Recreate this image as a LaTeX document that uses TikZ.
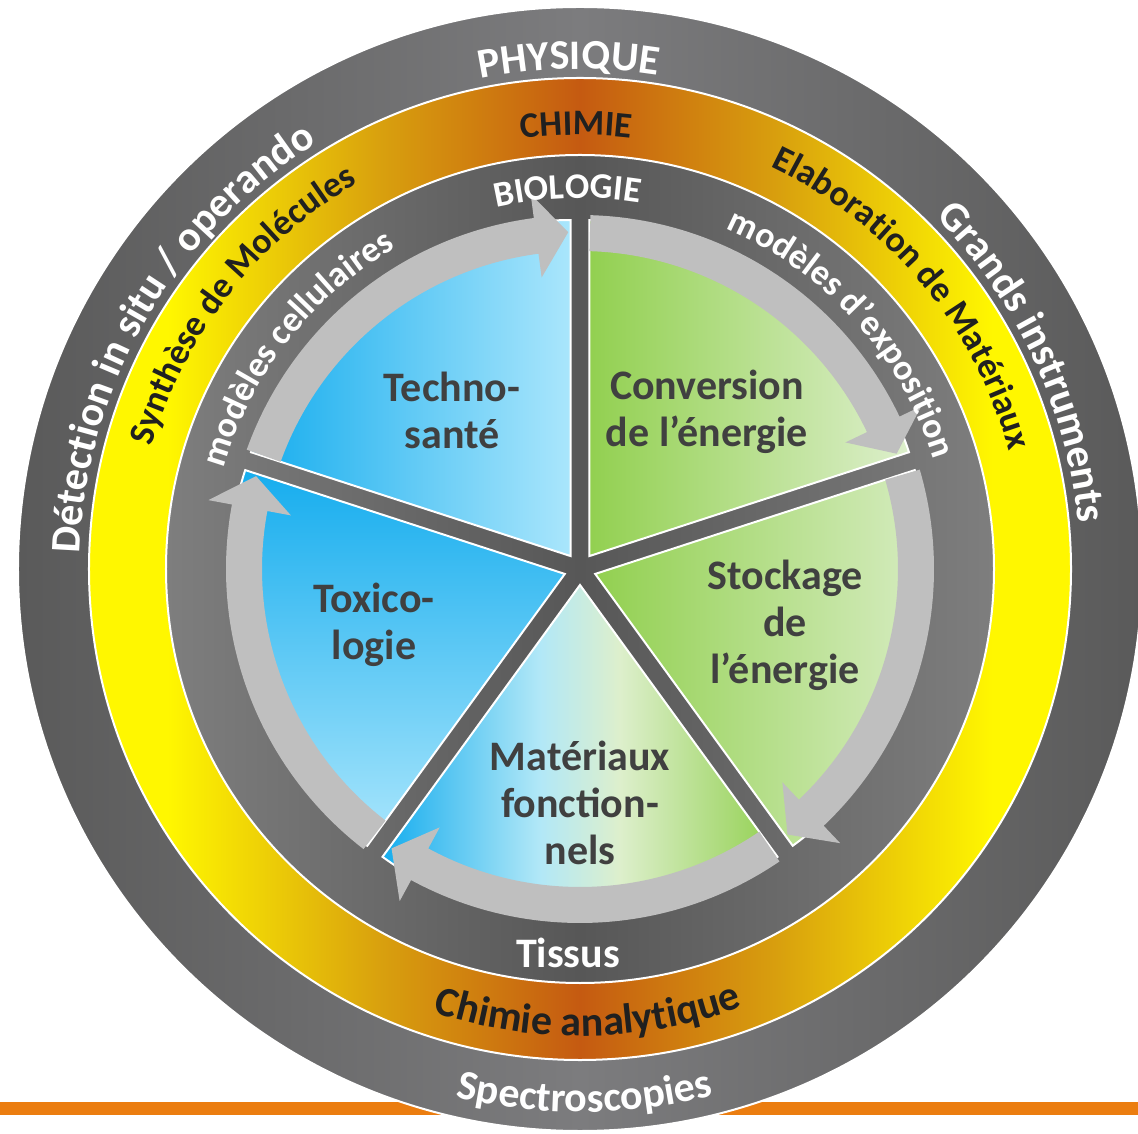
\documentclass[tikz,border=0pt]{standalone}
\usepackage{fontspec}
\setmainfont{Carlito}
\usepackage{tikz}
\usetikzlibrary{decorations.text}

\definecolor{ringgray}{RGB}{124,124,126}
\definecolor{ringdark}{RGB}{90,90,90}
\definecolor{chyellow}{RGB}{255,247,0}
\definecolor{chgold}{RGB}{216,159,14}
\definecolor{chbrown}{RGB}{197,90,17}
\definecolor{biodark}{RGB}{87,87,87}
\definecolor{biolight}{RGB}{126,126,126}
\definecolor{bandgray}{RGB}{191,191,191}
\definecolor{bluedeep}{RGB}{22,173,238}
\definecolor{bluepale}{RGB}{170,230,252}
\definecolor{cyanpale}{RGB}{178,232,247}
\definecolor{greendeep}{RGB}{146,208,80}
\definecolor{greenpale}{RGB}{221,239,204}
\definecolor{labelgray}{RGB}{64,64,64}
\definecolor{bandtext}{RGB}{32,32,32}
\definecolor{barorange}{RGB}{235,125,16}

\pgfdeclarehorizontalshading{outershade}{100bp}{color(0bp)=(ringdark); color(25bp)=(ringdark); color(50bp)=(ringgray); color(75bp)=(ringdark); color(100bp)=(ringdark)}
\pgfdeclarehorizontalshading{chimieshade}{100bp}{color(0bp)=(chyellow); color(29bp)=(chyellow); color(40bp)=(chgold); color(50bp)=(chbrown); color(60bp)=(chgold); color(71bp)=(chyellow); color(100bp)=(chyellow)}
\pgfdeclarehorizontalshading{bioshade}{100bp}{color(0bp)=(biolight); color(25bp)=(biolight); color(50bp)=(biodark); color(75bp)=(biolight); color(100bp)=(biolight)}
\pgfdeclarehorizontalshading{matshade}{100bp}{color(0bp)=(bluedeep); color(25bp)=(bluedeep); color(45bp)=(cyanpale); color(55bp)=(greenpale); color(75bp)=(greendeep); color(100bp)=(greendeep)}

\newcommand{\sectfont}{\fontsize{21}{23.5}\selectfont\bfseries}
\newcommand{\outerfont}{\fontsize{21}{24}\selectfont\bfseries\color{white}}
\newcommand{\chimfont}{\fontsize{18}{21}\selectfont\bfseries\color{bandtext}}
\newcommand{\biofont}{\fontsize{18}{21}\selectfont\bfseries\color{white}}

\begin{document}
\begin{tikzpicture}[x=0.5pt, y=0.5pt,
		sector/.style={draw=white, line width=1pt},
		band/.style={fill=bandgray},
		sectlabel/.style={align=center, text=labelgray, font=\sectfont}]
		\useasboundingbox (-580,-564) rectangle (558,569);
		
		% orange rule behind the wheel
		\fill[barorange] (-580,-533) rectangle (558,-546);
		
		% three rings, outside in
		\shadedraw[shading=outershade, draw=white, line width=1pt] (0,0) circle[radius=562];
		\shadedraw[shading=chimieshade, draw=white, line width=1pt] (0,0) circle[radius=491];
		\shadedraw[shading=bioshade, draw=white, line width=1pt] (0,0) circle[radius=414];
		
		% five sectors, pushed out from the hub
		\shadedraw[sector, left color=bluedeep, right color=bluepale, shift={(126:16)}] (0,0) -- (90:336) arc[start angle=90, end angle=162, radius=336] -- cycle;
		\shadedraw[sector, left color=greendeep, right color=greenpale, shift={(54:16)}] (0,0) -- (18:336) arc[start angle=18, end angle=90, radius=336] -- cycle;
		\shadedraw[sector, left color=greendeep, right color=greenpale, shift={(-18:16)}] (0,0) -- (-54:336) arc[start angle=-54, end angle=18, radius=336] -- cycle;
		\shadedraw[sector, shading=matshade, shift={(-90:16)}] (0,0) -- (-126:336) arc[start angle=-126, end angle=-54, radius=336] -- cycle;
		\shadedraw[sector, top color=bluedeep, bottom color=bluepale, shift={(198:16)}] (0,0) -- (162:336) arc[start angle=162, end angle=234, radius=336] -- cycle;
		
		% curved arrows, clockwise
		\foreach \tail/\tip in {160.3/92, 88.3/20, 16.3/-52, -55.7/-124, -127.7/-196}{
			\pgfmathsetmacro{\headang}{\tip+5.5}
			\fill[band] (\tail:318) arc[start angle=\tail, end angle=\headang, radius=318]
			-- (\headang:294) -- (\tip:337) -- (\headang:378) -- (\headang:354)
			arc[start angle=\headang, end angle=\tail, radius=354] -- cycle;
		}
		
		% outer ring labels
		\path[decorate, decoration={text along path, text align=center, text={|\outerfont|PHYSIQUE}}] (141.3:500) arc[start angle=141.3, end angle=41.3, radius=500];
		\path[decorate, decoration={text along path, text align=center, text={|\outerfont|Grands instruments}}] (75:500) arc[start angle=75, end angle=-25, radius=500];
		\path[decorate, decoration={text along path, text align=center, text={|\outerfont|Détection in situ / operando}}] (210:500) arc[start angle=210, end angle=90, radius=500];
		\path[decorate, decoration={text along path, text align=center, text={|\outerfont|Spectroscopies}}] (-139.5:543) arc[start angle=-139.5, end angle=-39.5, radius=543];
		
		% chemistry ring labels
		\path[decorate, decoration={text along path, text align=center, text={|\chimfont|CHIMIE}}] (130.5:434) arc[start angle=130.5, end angle=50.5, radius=434];
		\path[decorate, decoration={text along path, text align=center, text={|\chimfont|Elaboration de Matériaux}}] (80:445) arc[start angle=80, end angle=0, radius=445];
		\path[decorate, decoration={text along path, text align=center, text={|\chimfont|Synthèse de Molécules}}] (182:445) arc[start angle=182, end angle=102, radius=445];
		\path[decorate, decoration={text along path, text align=center, text={|\chimfont\fontsize{21}{24}\selectfont|Chimie analytique}}] (-129:467) arc[start angle=-129, end angle=-49, radius=467];
		
		% biology ring labels
		\path[decorate, decoration={text along path, text align=center, text={|\biofont|BIOLOGIE}}] (131.9:371) arc[start angle=131.9, end angle=51.9, radius=371];
		\path[decorate, decoration={text along path, text align=center, text={|\biofont|modèles cellulaires}}] (182:370) arc[start angle=182, end angle=102, radius=370];
		\path[decorate, decoration={text along path, text align=center, text={|\biofont|modèles d’exposition}}] (82:370) arc[start angle=82, end angle=2, radius=370];
		\node[text=white, font=\fontsize{21}{24}\selectfont\bfseries] (tissus) at (-12,-384) {Tissus};
		
		% sector labels
		\node[sectlabel] (techno) at (-128,159) {Techno-\\santé};
		\node[sectlabel] (conversion) at (127,157) {Conversion\\de l’énergie};
		\node[sectlabel] (stockage) at (205,-56) {Stockage\\de\\l’énergie};
		\node[sectlabel] (toxico) at (-206,-56) {Toxico-\\logie};
		\node[sectlabel] (materiaux) at (0,-234) {Matériaux\\fonction-\\nels};
	\end{tikzpicture}
\end{document}
